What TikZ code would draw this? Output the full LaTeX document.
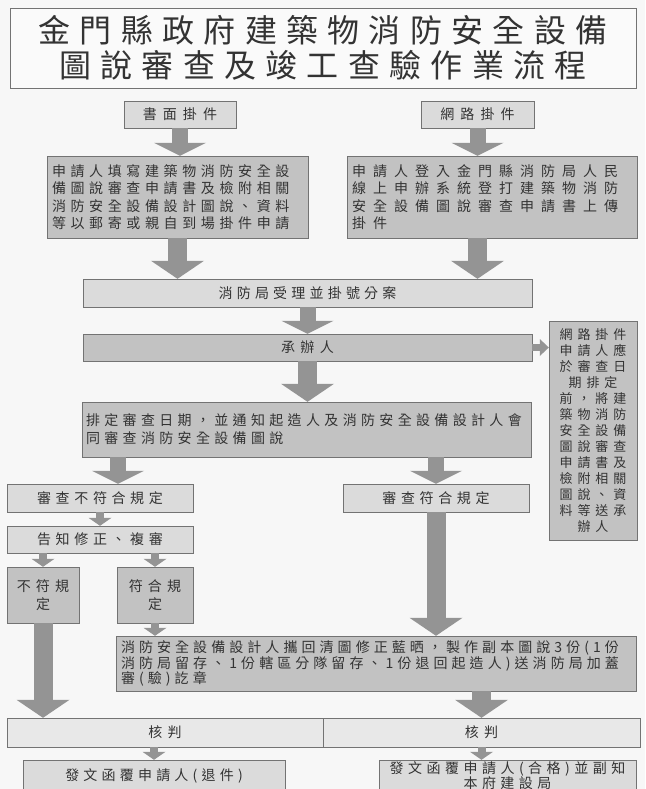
\documentclass[tikz,border=0pt]{standalone}
\usepackage{fontspec}
\setmainfont{Noto Sans CJK TC}
\usetikzlibrary{arrows.meta}
\tikzset{
  box/.style={draw=black!55, fill=black!24, text=black!80, inner sep=4pt},
  light/.style={fill=black!14},
  pale/.style={fill=black!9},
  sz/.style 2 args={minimum width=#1, minimum height=#2},
  trk/.style={font=\fontsize{14}{17.5}\selectfont\addfontfeature{LetterSpace=#1}},
  bigarrow/.style={draw=black!42, line width=19pt, -{Triangle[width=53pt,length=18pt,line width=0pt]}},
  midarrow/.style={draw=black!42, line width=16pt, -{Triangle[width=52pt,length=13pt,line width=0pt]}},
  smallarrow/.style={draw=black!42, line width=8pt, -{Triangle[width=23pt,length=8pt,line width=0pt]}},
  sidearrow/.style={draw=black!42, line width=7pt, -{Triangle[width=17pt,length=9pt,line width=0pt]}}
}
\begin{document}
\begin{tikzpicture}[x=1pt,y=-1pt]
\clip (0,0) rectangle (645,789);
\fill[black!3] (0,0) rectangle (645,789);
\node[box,fill=black!2,sz={626}{80},align=center,font=\fontsize{32}{35}\selectfont\addfontfeature{LetterSpace=29}] (title) at (323,48) {金門縣政府建築物消防安全設備\\圖說審查及竣工查驗作業流程};

\node[box,light,sz={112}{27},trk=43] (paper) at (180,114.5) {書面掛件};
\node[box,light,sz={113}{27},trk=43] (online) at (477.5,114.5) {網路掛件};
\node[box,sz={261}{82},text width=251pt,align=left,trk=33] (paperbox) at (177.5,197) {申請人填寫建築物消防安全設\\備圖說審查申請書及檢附相關\\消防安全設備設計圖說、資料\\等以郵寄或親自到場掛件申請};
\node[box,sz={290}{82},text width=280pt,align=left,trk=50] (onlinebox) at (492,197) {申請人登入金門縣消防局人民\\線上申辦系統登打建築物消防\\安全設備圖說審查申請書上傳\\掛件};
\node[box,light,sz={449}{28},trk=30] (accept) at (307.5,293) {消防局受理並掛號分案};
\node[box,sz={449}{27},trk=39] (handler) at (307.5,347.5) {承辦人};
\node[box,sz={88}{219},align=center,font=\fontsize{13}{16}\selectfont\addfontfeature{LetterSpace=38}] (note) at (593,430.5) {網路掛件\\申請人應\\於審查日\\期排定\\前，將建\\築物消防\\安全設備\\圖說審查\\申請書及\\檢附相關\\圖說、資\\料等送承\\辦人};
\node[box,sz={449}{55},text width=441pt,inner xsep=4pt,align=left,font=\fontsize{14}{18}\selectfont\addfontfeature{LetterSpace=31}] (schedule) at (306.5,429.5) {排定審查日期，並通知起造人及消防安全設備設計人會\\同審查消防安全設備圖說};

\node[box,light,sz={186}{28},trk=33] (fail) at (100,498) {審查不符合規定};
\node[box,light,sz={186}{28},trk=33] (pass) at (436,498) {審查符合規定};
\node[box,light,sz={186}{27},trk=33] (revise) at (100,539.5) {告知修正、複審};
\node[box,sz={72}{56},align=center,trk=36] (nok) at (43,595) {不符規\\定};
\node[box,sz={76}{56},align=center,trk=36] (ok) at (155,595) {符合規\\定};
\node[box,sz={520}{55},text width=510pt,align=left,font=\fontsize{14}{15.5}\selectfont\addfontfeature{LetterSpace=29}] (stamp) at (376,663.5) {消防安全設備設計人攜回清圖修正藍晒，製作副本圖說3份(1份\\消防局留存、1份轄區分隊留存、1份退回起造人)送消防局加蓋\\審(驗)訖章};

\node[box,pale,sz={316}{29},trk=36] (judgeA) at (165,732.5) {核判};
\node[box,pale,sz={317}{29},trk=36] (judgeB) at (481.5,732.5) {核判};
\node[box,light,sz={262}{31},trk=30] (replyA) at (154,775.5) {發文函覆申請人(退件)};
\node[box,light,sz={257}{31},inner ysep=1pt,align=center,font=\fontsize{14}{15}\selectfont\addfontfeature{LetterSpace=32}] (replyB) at (507.5,775.5) {發文函覆申請人(合格)並副知\\本府建設局};

\draw[midarrow] (paper.south) -- (paper.south |- paperbox.north);
\draw[midarrow] (online.south) -- (online.south |- onlinebox.north);
\draw[bigarrow] (paperbox.south) -- (paperbox.south |- accept.north);
\draw[bigarrow] (online.south |- onlinebox.south) -- (online.south |- accept.north);
\draw[midarrow] (accept.south) -- (handler.north);
\draw[bigarrow] (handler.south) -- (handler.south |- schedule.north);
\draw[sidearrow] (handler.east) -- (handler.east -| note.west);
\coordinate (split) at ([xshift=18]fail.north);
\draw[midarrow] (split |- schedule.south) -- (split);
\draw[midarrow] (pass.north |- schedule.south) -- (pass.north);
\draw[smallarrow] (fail.south) -- (revise.north);
\draw[smallarrow] (nok.north |- revise.south) -- (nok.north);
\draw[smallarrow] (ok.north |- revise.south) -- (ok.north);
\draw[bigarrow] (nok.south) -- (nok.south |- judgeA.north);
\draw[smallarrow] (ok.south) -- (ok.south |- stamp.north);
\draw[bigarrow] (pass.south) -- (pass.south |- stamp.north);
\draw[bigarrow] (judgeB.north |- stamp.south) -- (judgeB.north);
\draw[smallarrow] (replyA.north |- judgeA.south) -- (replyA.north);
\draw[smallarrow] (judgeB.south) -- (judgeB.south |- replyB.north);
\end{tikzpicture}
\end{document}
